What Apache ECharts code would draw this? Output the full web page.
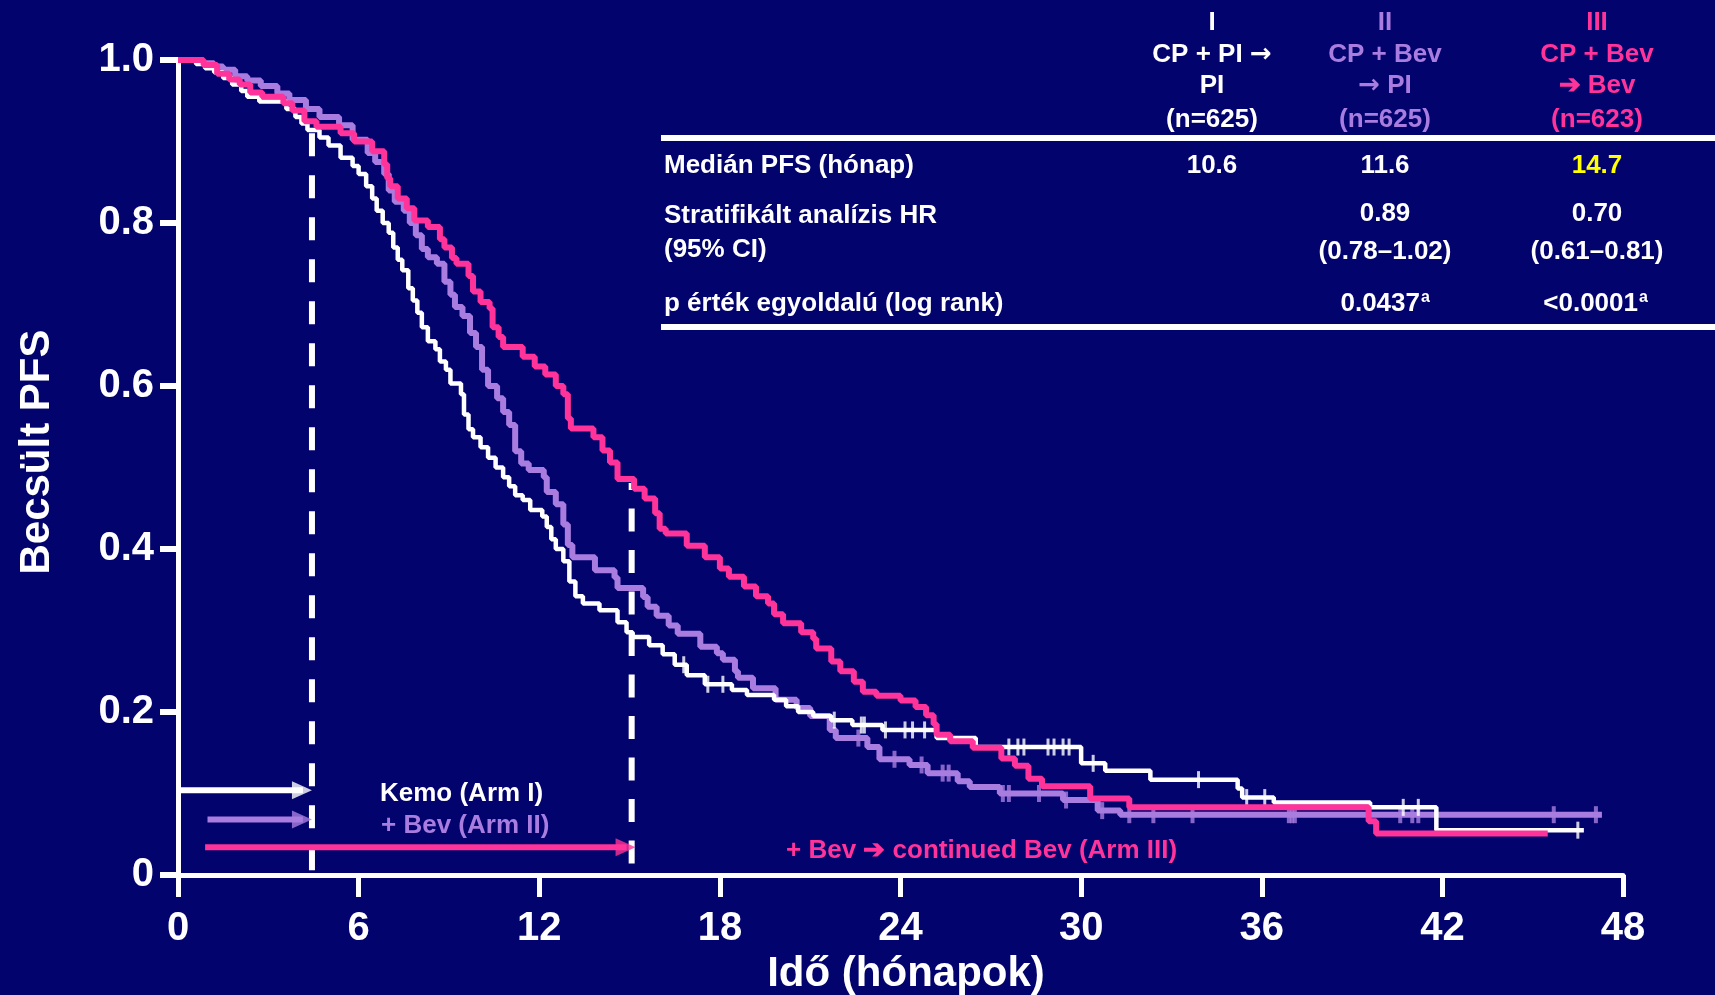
<!DOCTYPE html>
<html><head><meta charset="utf-8">
<script src="https://cdn.jsdelivr.net/npm/echarts@6/dist/echarts.min.js"></script>
<style>html,body{margin:0;padding:0;background:#03036e;}#c{width:1715px;height:995px;}</style>
</head><body><div id="c"></div>
<script>
// ---------- data ----------
const xTicks = [0, 6, 12, 18, 24, 30, 36, 42, 48];
const yTickLabels = ['0', '0.2', '0.4', '0.6', '0.8', '1.0'];

// Kaplan-Meier step points: [month, PFS after step]
const armI = [[0,1.0],[0.6,0.995],[0.9,0.99],[1.2,0.985],[1.5,0.978],[1.8,0.97],[2.1,0.962],[2.3,0.955],[2.7,0.949],[3.6,0.94],[3.9,0.93],[4.1,0.922],[4.3,0.914],[4.7,0.905],[5.0,0.895],[5.4,0.88],[5.8,0.87],[6.0,0.86],[6.25,0.845],[6.45,0.83],[6.6,0.815],[6.8,0.80],[7.0,0.788],[7.15,0.77],[7.3,0.755],[7.45,0.742],[7.65,0.72],[7.8,0.705],[7.95,0.69],[8.1,0.672],[8.3,0.655],[8.55,0.645],[8.7,0.63],[8.9,0.62],[9.05,0.603],[9.4,0.59],[9.5,0.565],[9.65,0.547],[9.8,0.537],[10.05,0.525],[10.3,0.512],[10.55,0.50],[10.8,0.488],[11.0,0.477],[11.2,0.466],[11.45,0.46],[11.7,0.448],[12.1,0.44],[12.25,0.427],[12.4,0.412],[12.55,0.40],[12.8,0.385],[13.0,0.36],[13.2,0.342],[13.45,0.333],[14.0,0.325],[14.6,0.31],[14.9,0.298],[15.1,0.292],[15.65,0.282],[16.1,0.271],[16.5,0.258],[16.9,0.245],[17.5,0.234],[18.4,0.227],[18.9,0.221],[19.8,0.215],[20.2,0.207],[20.6,0.20],[21.1,0.195],[21.7,0.19],[22.4,0.184],[23.4,0.178],[25.2,0.168],[26.5,0.157],[30.0,0.137],[30.8,0.128],[32.3,0.117],[35.2,0.106],[35.35,0.095],[36.4,0.089],[39.6,0.083],[41.8,0.055],[46.7,0.055]];
const armII = [[0,1.0],[0.8,0.996],[1.2,0.992],[1.5,0.988],[1.9,0.98],[2.3,0.975],[2.75,0.968],[3.3,0.959],[3.7,0.951],[4.25,0.94],[4.7,0.93],[5.35,0.92],[5.8,0.902],[6.3,0.886],[6.55,0.875],[6.85,0.86],[7.0,0.84],[7.2,0.826],[7.5,0.815],[7.7,0.80],[7.9,0.785],[8.1,0.768],[8.3,0.758],[8.6,0.75],[8.85,0.728],[9.05,0.712],[9.2,0.697],[9.45,0.686],[9.7,0.665],[9.9,0.648],[10.1,0.62],[10.3,0.60],[10.6,0.585],[10.8,0.568],[11.0,0.552],[11.2,0.52],[11.4,0.505],[11.65,0.497],[12.15,0.488],[12.25,0.47],[12.55,0.455],[12.8,0.43],[12.95,0.405],[13.1,0.39],[13.85,0.374],[14.5,0.365],[14.6,0.352],[15.45,0.341],[15.6,0.329],[15.9,0.318],[16.3,0.306],[16.6,0.296],[17.35,0.28],[17.9,0.272],[18.1,0.264],[18.5,0.25],[18.6,0.242],[19.1,0.229],[19.85,0.215],[20.55,0.205],[21.0,0.195],[21.65,0.178],[21.85,0.168],[22.9,0.157],[23.3,0.142],[24.3,0.135],[24.9,0.125],[25.9,0.115],[26.3,0.108],[27.3,0.10],[29.4,0.092],[30.55,0.079],[31.3,0.074],[47.3,0.074]];
const armIII = [[0,1.0],[0.85,0.994],[1.3,0.983],[1.7,0.976],[2.05,0.97],[2.4,0.96],[2.8,0.955],[3.5,0.947],[3.8,0.938],[4.2,0.925],[4.6,0.918],[5.4,0.91],[5.85,0.9],[6.45,0.888],[6.85,0.872],[6.95,0.855],[7.05,0.845],[7.3,0.83],[7.6,0.818],[7.85,0.803],[8.3,0.795],[8.7,0.78],[8.85,0.77],[9.1,0.757],[9.25,0.75],[9.65,0.735],[9.8,0.716],[10.05,0.703],[10.35,0.695],[10.45,0.672],[10.65,0.66],[10.8,0.648],[11.45,0.636],[11.85,0.624],[12.2,0.614],[12.55,0.60],[12.8,0.59],[12.95,0.56],[13.05,0.548],[13.8,0.537],[14.1,0.521],[14.35,0.506],[14.6,0.486],[15.15,0.474],[15.5,0.462],[15.85,0.444],[16.0,0.425],[16.2,0.419],[16.9,0.404],[17.5,0.39],[18.0,0.376],[18.3,0.366],[18.8,0.354],[19.2,0.342],[19.6,0.333],[19.8,0.32],[20.1,0.309],[20.7,0.298],[21.1,0.29],[21.2,0.278],[21.7,0.262],[22.0,0.25],[22.45,0.237],[22.75,0.225],[23.2,0.22],[24.0,0.214],[24.5,0.206],[24.85,0.196],[25.1,0.185],[25.2,0.172],[25.65,0.164],[26.4,0.156],[27.35,0.143],[27.8,0.134],[28.25,0.118],[28.7,0.109],[30.3,0.094],[31.6,0.083],[39.55,0.066],[39.8,0.051],[45.5,0.051]];

// censoring times (months)
const censorI = [16.8,17.6,18.1,21.8,22.7,22.8,23.5,24.15,24.4,24.8,27.6,27.9,28.1,28.9,29.1,29.4,29.6,30.4,33.9,35.5,36.1,40.7,41.2,46.5];
const censorII = [22.6,23.8,24.7,25.4,25.6,27.4,27.6,28.6,29.5,30.7,31.6,32.4,33.7,36.9,37.0,37.1,40.6,41.0,41.2,45.7,47.1];

// treatment phases (months) and arrow levels
const chemoEnd = 4.45;
const bevEnd = 15.07;
const arrowI = { start: 0, end: 4.45, level: 0.104 };
const arrowII = { start: 0.98, end: 4.45, level: 0.068 };
const arrowIII = { start: 0.9, end: 15.2, level: 0.034 };

// table
const colHeaders = [
  ['I', 'CP + PI →', 'PI', '(n=625)'],
  ['II', 'CP + Bev', '→ PI', '(n=625)'],
  ['III', 'CP + Bev', '➔ Bev', '(n=623)']
];
const rowLabels = ['Medián PFS (hónap)', 'Stratifikált analízis HR', '(95% CI)', 'p érték egyoldalú (log rank)'];
const medians = ['10.6', '11.6', '14.7'];
const hrs = ['', '0.89', '0.70'];
const cis = ['', '(0.78–1.02)', '(0.61–0.81)'];
const pvals = ['', '0.0437', '<0.0001'];

// ---------- styles ----------
const BG = '#03036e', WHITE = '#ffffff', PURPLE = '#a87ddf', PINK = '#ff3399', YELLOW = '#ffff00';
const FF = '"Liberation Sans", Arial, Helvetica, sans-serif';
const DY = 3; // text vertical nudge

function valueAt(curve, t) {
  let v = curve[0][1];
  for (const p of curve) { if (p[0] <= t) v = p[1]; else break; }
  return v;
}

const chart = echarts.init(document.getElementById('c'), null, { renderer: 'canvas' });

function txt(text, x, y, color, align, size) {
  const hasArrow = text.indexOf('→') >= 0;
  const style = { text: hasArrow ? text.replace('→', '{ar|→}') : text, x: x, y: y + DY, fill: color,
    textAlign: align, textVerticalAlign: 'middle', font: 'bold ' + size + 'px ' + FF };
  if (hasArrow) {
    style.rich = { ar: { fontFamily: '"DejaVu Sans", sans-serif', fontWeight: 'bold', fontSize: size, fill: color } };
  }
  return { type: 'text', z: 100, style: style };
}

const colX = [1212, 1385, 1597];
const colColors = [WHITE, PURPLE, PINK];
const headerY = [20, 52, 83, 117];
const graphics = [];
colHeaders.forEach((lines, c) => {
  lines.forEach((l, i) => graphics.push(txt(l, colX[c], headerY[i], colColors[c], 'center', 26)));
});
graphics.push({ type: 'rect', z: 100, shape: { x: 661, y: 135, width: 1054, height: 6 }, style: { fill: WHITE } });
graphics.push({ type: 'rect', z: 100, shape: { x: 661, y: 324, width: 1054, height: 6 }, style: { fill: WHITE } });
graphics.push(txt(rowLabels[0], 664, 163, WHITE, 'left', 26));
graphics.push(txt(rowLabels[1], 664, 213, WHITE, 'left', 26));
graphics.push(txt(rowLabels[2], 664, 247, WHITE, 'left', 26));
graphics.push(txt(rowLabels[3], 664, 301, WHITE, 'left', 26));
medians.forEach((m, c) => graphics.push(txt(m, colX[c], 163, c === 2 ? YELLOW : WHITE, 'center', 26)));
hrs.forEach((m, c) => { if (m) graphics.push(txt(m, colX[c], 211, WHITE, 'center', 26)); });
cis.forEach((m, c) => { if (m) graphics.push(txt(m, colX[c], 249, WHITE, 'center', 26)); });
const pRight = [0, 1420, 1638];
pvals.forEach((m, c) => {
  if (!m) return;
  graphics.push(txt(m, pRight[c], 301, WHITE, 'right', 26));
  graphics.push(txt('a', pRight[c] + 1, 295, WHITE, 'left', 16));
});
// annotations
graphics.push(txt('Kemo (Arm I)', 380, 791, WHITE, 'left', 26));
graphics.push(txt('+ Bev (Arm II)', 381, 823, PURPLE, 'left', 26));
graphics.push(txt('+ Bev ➔ continued Bev (Arm III)', 786, 848, PINK, 'left', 26));
// axis names
graphics.push(txt('Idő (hónapok)', 906, 971, WHITE, 'center', 42));
graphics.push({ type: 'text', z: 100, rotation: Math.PI / 2, x: 37, y: 452,
  style: { text: 'Becsült PFS', x: 0, y: 0, fill: WHITE, textAlign: 'center', textVerticalAlign: 'middle',
    font: 'bold 42px ' + FF } });

function arrowSeries(a, color) {
  return [
    { type: 'line', data: [[a.start, a.level], [a.end - 0.3, a.level]], symbol: 'none', clip: false, z: 3,
      lineStyle: { color: color, width: 6 }, silent: true },
    { type: 'scatter', data: [[a.end, a.level]], symbol: 'triangle', symbolSize: [18, 20], symbolRotate: -90,
      symbolOffset: [-10, 0], itemStyle: { color: color }, clip: false, z: 3, silent: true }
  ];
}

const option = {
  backgroundColor: BG,
  animation: false,
  grid: { left: 178, right: 92, top: 60, bottom: 120, containLabel: false },
  xAxis: {
    type: 'value', min: 0, max: 48, interval: 6,
    axisLine: { show: true, lineStyle: { color: WHITE, width: 5 } },
    axisTick: { show: true, length: 22, lineStyle: { color: WHITE, width: 5 } },
    axisLabel: { color: WHITE, fontSize: 40, fontWeight: 'bold', fontFamily: FF, margin: 34,
      formatter: v => (xTicks.indexOf(v) >= 0 ? String(v) : '') },
    splitLine: { show: false }
  },
  yAxis: {
    type: 'value', min: 0, max: 1, interval: 0.2,
    axisLine: { show: true, lineStyle: { color: WHITE, width: 5 } },
    axisTick: { show: true, length: 18, lineStyle: { color: WHITE, width: 6 } },
    axisLabel: { color: WHITE, fontSize: 40, fontWeight: 'bold', fontFamily: FF, margin: 24,
      formatter: v => yTickLabels[Math.round(v / 0.2)] },
    splitLine: { show: false }
  },
  graphic: graphics,
  series: [
    // dashed phase lines
    { type: 'line', data: [[chemoEnd, 0.91], [chemoEnd, 0]], symbol: 'none', clip: false, z: 1, silent: true,
      lineStyle: { color: WHITE, width: 6, type: [23, 19] } },
    { type: 'line', data: [[bevEnd, 0.481], [bevEnd, 0]], symbol: 'none', clip: false, z: 1, silent: true,
      lineStyle: { color: WHITE, width: 6, type: [23, 18.5], dashOffset: 16 } },
    ...arrowSeries(arrowI, WHITE),
    ...arrowSeries(arrowII, PURPLE),
    ...arrowSeries(arrowIII, PINK),
    // curves
    { name: 'II', type: 'line', step: 'end', data: armII, showSymbol: false, symbol: 'none', clip: false, z: 4,
      lineStyle: { color: PURPLE, width: 6 } },
    { type: 'scatter', data: censorII.map(t => [t, valueAt(armII, t)]), symbol: 'rect', symbolSize: [4, 17],
      itemStyle: { color: PURPLE }, z: 4, clip: false },
    { name: 'I', type: 'line', step: 'end', data: armI, showSymbol: false, symbol: 'none', clip: false, z: 5,
      lineStyle: { color: WHITE, width: 4.5 } },
    { type: 'scatter', data: censorI.map(t => [t, valueAt(armI, t)]), symbol: 'rect', symbolSize: [3, 17],
      itemStyle: { color: WHITE }, z: 5, clip: false },
    { name: 'III', type: 'line', step: 'end', data: armIII, showSymbol: false, symbol: 'none', clip: false, z: 6,
      lineStyle: { color: PINK, width: 6 } }
  ]
};
chart.setOption(option);
</script></body></html>
